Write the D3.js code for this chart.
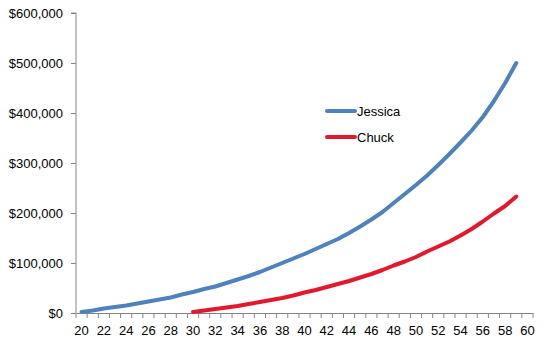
<!DOCTYPE html>
<html>
<head>
<meta charset="utf-8">
<script src="https://cdn.jsdelivr.net/npm/d3@7"></script>
<style>
  html, body { margin: 0; padding: 0; background: #fff; }
  svg { display: block; font-family: "Liberation Sans", Arial, sans-serif; }
</style>
</head>
<body>
<svg id="chart" width="544" height="350"></svg>
<script>
// Ages on the category axis
const ages = d3.range(20, 61);
const tickAges = d3.range(20, 61, 2);
const yTicks = [0, 100000, 200000, 300000, 400000, 500000, 600000];

// Savings balance by age
const jessicaAges = d3.range(20, 60);
const jessicaValues = [
  2000, 5000, 9000, 12000, 15000, 19000, 23000, 27000, 31000, 37000,
  42000, 48000, 53000, 60000, 67000, 74000, 82000, 91000, 100000, 109000,
  118000, 128000, 138000, 148000, 160000, 173000, 187000, 202000, 220000, 238000,
  256000, 275000, 296000, 318000, 341000, 365000, 392000, 424000, 460000, 500000
];
const chuckAges = d3.range(30, 60);
const chuckValues = [
  2000, 5000, 8000, 11000, 14000, 18000, 22000, 26000, 30000, 35000,
  41000, 46000, 52000, 58000, 64000, 71000, 78000, 86000, 95000, 103000,
  112000, 123000, 133000, 143000, 155000, 168000, 183000, 199000, 214000, 233000
];

const series = [
  { name: "Jessica", color: "#4F81BD", ages: jessicaAges, values: jessicaValues },
  { name: "Chuck", color: "#E3182D", ages: chuckAges, values: chuckValues }
];

const svg = d3.select("#chart");
const axisColor = "#868686";

const x = d3.scaleBand().domain(ages).range([76, 533]).padding(0);
const y = d3.scaleLinear().domain([0, 600000]).range([313, 13]);

// Y axis
const yAxis = svg.append("g")
  .attr("transform", "translate(76,0)")
  .call(d3.axisLeft(y).tickValues(yTicks).tickSize(5).tickPadding(8)
    .tickFormat(d => "$" + d3.format(",")(d)));
yAxis.select(".domain").attr("stroke", axisColor).attr("d", `M-5,${y(600000)}H0V${y(0)}`);
yAxis.selectAll(".tick line").attr("stroke", axisColor);
yAxis.selectAll("text").attr("font-size", 13).attr("fill", "#000")
  .attr("font-family", "Liberation Sans, Arial, sans-serif");

// X axis: labels at every other category, tick marks between categories
const xAxis = svg.append("g")
  .attr("transform", `translate(0,${y(0)})`)
  .call(d3.axisBottom(x).tickValues(tickAges).tickSize(0).tickPadding(13));
xAxis.select(".domain").attr("stroke", axisColor);
xAxis.selectAll("text").attr("font-size", 13).attr("fill", "#000")
  .attr("font-family", "Liberation Sans, Arial, sans-serif");
const boundaries = ages.map(a => x(a)).concat([x(ages[ages.length - 1]) + x.bandwidth()]);
xAxis.selectAll("line.sep").data(boundaries).enter().append("line")
  .attr("class", "sep")
  .attr("x1", d => d).attr("x2", d => d)
  .attr("y1", 0).attr("y2", 5)
  .attr("stroke", axisColor);

// Lines
const line = d3.line()
  .x(d => x(d[0]) + x.bandwidth() / 2)
  .y(d => y(d[1]));

series.forEach(s => {
  svg.append("path")
    .datum(s.ages.map((a, i) => [a, s.values[i]]))
    .attr("fill", "none")
    .attr("stroke", s.color)
    .attr("stroke-width", 4)
    .attr("stroke-linejoin", "round")
    .attr("stroke-linecap", "round")
    .attr("d", line);
});

// Legend
const legend = svg.append("g").attr("transform", "translate(327,111)");
series.forEach((s, i) => {
  const g = legend.append("g").attr("transform", `translate(0,${i * 26})`);
  g.append("line").attr("x1", 0).attr("x2", 28).attr("y1", 0).attr("y2", 0)
    .attr("stroke", s.color).attr("stroke-width", 4).attr("stroke-linecap", "round");
  g.append("text").attr("x", 30).attr("y", 0).attr("dy", "0.35em")
    .attr("font-size", 13).attr("fill", "#000").text(s.name);
});
</script>
</body>
</html>
